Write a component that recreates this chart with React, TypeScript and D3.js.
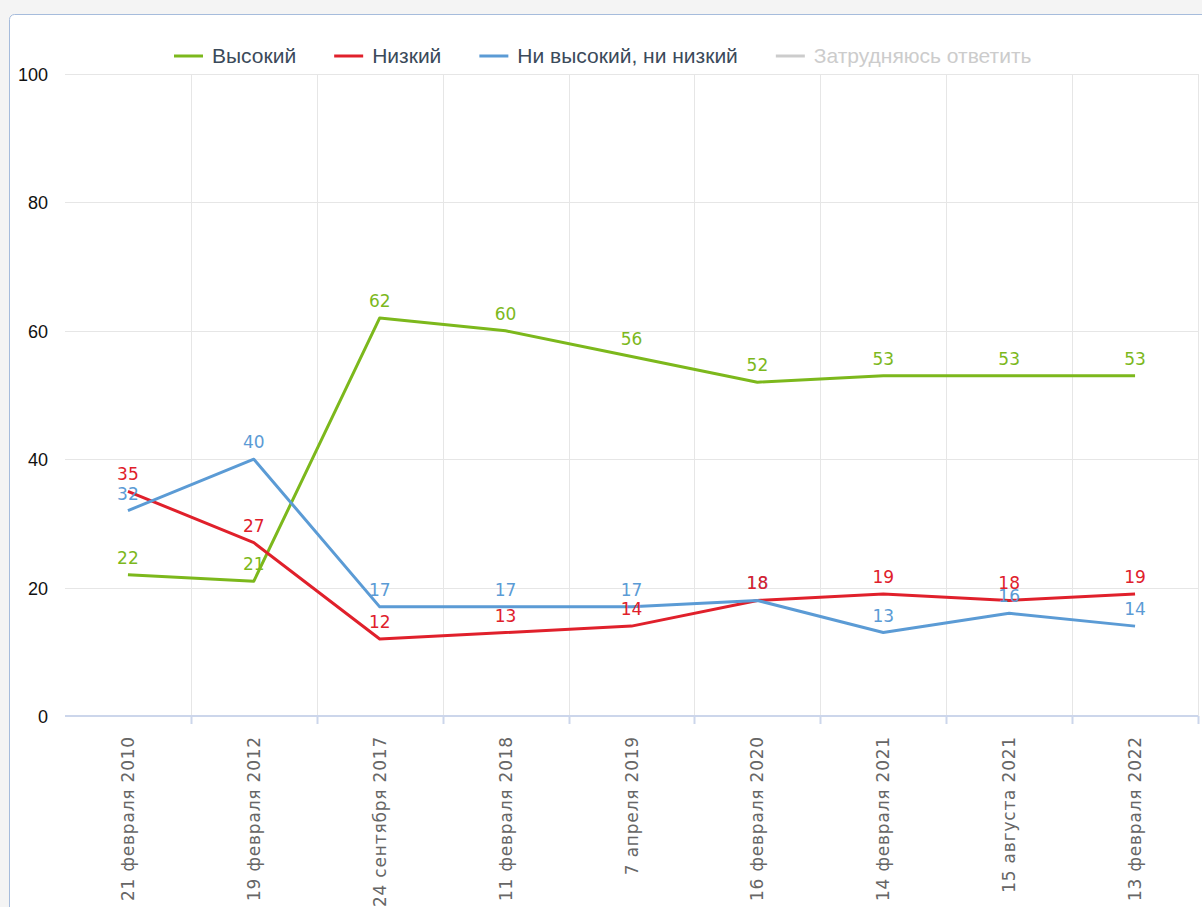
import React, { useEffect, useRef } from 'react'
import * as d3 from 'd3'

// Data
const categories = [
  '21 февраля 2010',
  '19 февраля 2012',
  '24 сентября 2017',
  '11 февраля 2018',
  '7 апреля 2019',
  '16 февраля 2020',
  '14 февраля 2021',
  '15 августа 2021',
  '13 февраля 2022',
]
const high = [22, 21, 62, 60, 56, 52, 53, 53, 53]
const low = [35, 27, 12, 13, 14, 18, 19, 18, 19]
const neither = [32, 40, 17, 17, 17, 18, 13, 16, 14]
const hardToSay = [11, 12, 9, 10, 13, 12, 15, 13, 14]
const yTicks = [0, 20, 40, 60, 80, 100]

const series = [
  { name: 'Высокий', values: high, color: '#7cb81c', visible: true },
  { name: 'Низкий', values: low, color: '#e0202b', visible: true },
  { name: 'Ни высокий, ни низкий', values: neither, color: '#5b9bd5', visible: true },
  { name: 'Затрудняюсь ответить', values: hardToSay, color: '#cccccc', visible: false },
]

const W = 1202
const H = 907

export default function App() {
  const ref = useRef<SVGSVGElement | null>(null)

  useEffect(() => {
    const svg = d3.select(ref.current)
    svg.selectAll('*').remove()

    // background + panel
    svg.append('rect').attr('width', W).attr('height', H).attr('fill', '#f4f4f4')
    svg
      .append('rect')
      .attr('x', 9.5)
      .attr('y', 14.5)
      .attr('width', W + 20)
      .attr('height', H + 20)
      .attr('rx', 5)
      .attr('fill', '#fff')
      .attr('stroke', '#a6bcdc')

    const left = 65
    const right = 1198
    const top = 74
    const bottom = 716

    const x = d3.scaleBand<number>().domain(d3.range(categories.length)).range([left, right])
    const y = d3.scaleLinear().domain([0, 100]).range([bottom, top])
    const cx = (i: number) => (x(i) as number) + x.bandwidth() / 2

    // horizontal grid
    svg
      .append('g')
      .selectAll('line')
      .data(yTicks.filter(d => d > 0))
      .enter()
      .append('line')
      .attr('x1', left)
      .attr('x2', right)
      .attr('y1', d => Math.round(y(d)) + 0.5)
      .attr('y2', d => Math.round(y(d)) + 0.5)
      .attr('stroke', '#e6e6e6')

    // vertical grid at band edges
    const edges = d3.range(1, categories.length + 1).map(i => left + x.step() * i)
    svg
      .append('g')
      .selectAll('line')
      .data(edges)
      .enter()
      .append('line')
      .attr('x1', d => Math.round(d) + 0.5)
      .attr('x2', d => Math.round(d) + 0.5)
      .attr('y1', top)
      .attr('y2', bottom)
      .attr('stroke', '#e6e6e6')

    // tick marks below baseline
    svg
      .append('g')
      .selectAll('line')
      .data(edges)
      .enter()
      .append('line')
      .attr('x1', d => Math.round(d) + 0.5)
      .attr('x2', d => Math.round(d) + 0.5)
      .attr('y1', bottom)
      .attr('y2', bottom + 8)
      .attr('stroke', '#ccd6eb')
      .attr('stroke-width', 2)

    // baseline
    svg
      .append('line')
      .attr('x1', left)
      .attr('x2', right)
      .attr('y1', bottom)
      .attr('y2', bottom)
      .attr('stroke', '#ccd6eb')
      .attr('stroke-width', 2)

    // y labels
    svg
      .append('g')
      .selectAll('text')
      .data(yTicks)
      .enter()
      .append('text')
      .attr('x', 48)
      .attr('y', d => y(d) + 7)
      .attr('text-anchor', 'end')
      .attr('font-family', 'Liberation Sans, Arial, sans-serif')
      .attr('font-size', 18)
      .attr('fill', '#111')
      .text(d => d)

    // x labels
    svg
      .append('g')
      .selectAll('text')
      .data(categories)
      .enter()
      .append('text')
      .attr('transform', (d, i) => `translate(${cx(i) + 6},736) rotate(-90)`)
      .attr('text-anchor', 'end')
      .attr('font-family', 'DejaVu Sans, Verdana, sans-serif')
      .attr('font-size', 17)
      .attr('letter-spacing', 0.8)
      .attr('fill', '#666')
      .text(d => d)

    // lines
    const line = d3
      .line<number>()
      .x((d, i) => cx(i))
      .y(d => y(d))

    const visible = series.filter(s => s.visible)
    svg
      .append('g')
      .selectAll('path')
      .data(visible)
      .enter()
      .append('path')
      .attr('d', s => line(s.values))
      .attr('fill', 'none')
      .attr('stroke', s => s.color)
      .attr('stroke-width', 3)
      .attr('stroke-linejoin', 'round')

    // data labels (red drawn last, as in the source)
    const labelOrder = [visible[0], visible[2], visible[1]]
    labelOrder.forEach(s => {
      svg
        .append('g')
        .selectAll('text')
        .data(s.values)
        .enter()
        .append('text')
        .attr('x', (d, i) => cx(i))
        .attr('y', d => y(d) - 11)
        .attr('text-anchor', 'middle')
        .attr('font-family', 'DejaVu Sans, Verdana, sans-serif')
        .attr('font-size', 17)
        .attr('fill', s.color)
        .text(d => d)
    })

    // legend
    const legend = svg.append('g')
    let lx = 174
    series.forEach(s => {
      const col = s.visible ? s.color : '#cccccc'
      legend
        .append('line')
        .attr('x1', lx)
        .attr('x2', lx + 29)
        .attr('y1', 56)
        .attr('y2', 56)
        .attr('stroke', col)
        .attr('stroke-width', 3)
      const t = legend
        .append('text')
        .attr('x', lx + 38)
        .attr('y', 63)
        .attr('font-family', 'Liberation Sans, Arial, sans-serif')
        .attr('font-size', 21)
        .attr('fill', s.visible ? '#3b4a5a' : '#cccccc')
        .text(s.name)
      const w = (t.node() as SVGTextElement).getComputedTextLength()
      lx += 38 + w + 38
    })
  }, [])

  return (
    <div style={{ position: 'absolute', left: 0, top: 0 }}>
      <svg ref={ref} width={W} height={H} style={{ display: 'block' }} />
    </div>
  )
}
